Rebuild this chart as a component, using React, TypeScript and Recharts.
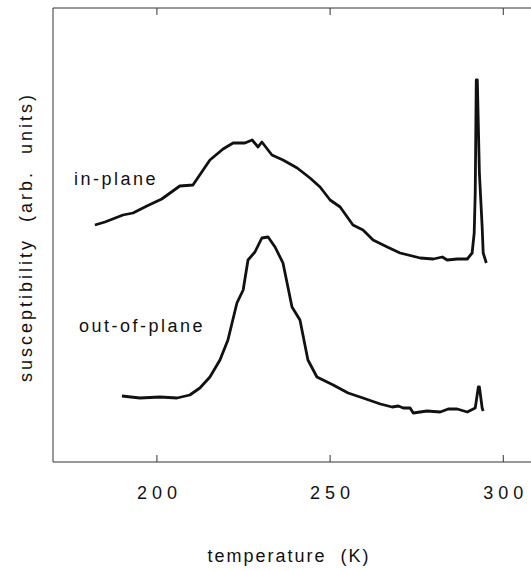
import React from "react";
import { LineChart, Line, XAxis, YAxis } from "recharts";

// temperature (K) and susceptibility (arb. units)
const inPlaneT = [
  182.1, 185.0, 190.2, 193.1, 197.1, 201.4, 206.6, 210.4, 215.3, 219.1, 222.0,
  225.4, 227.5, 229.2, 230.3, 233.2, 236.4, 240.5, 244.2, 247.1, 250.0, 252.9,
  256.6, 259.5, 262.4, 266.5, 270.2, 276.0, 279.8, 282.4, 283.8, 286.7, 289.6,
  291.0, 291.6, 291.9, 292.2, 292.5, 293.1, 293.9, 294.2, 295.1,
];
const inPlaneV = [
  237, 240, 247, 249, 256, 263, 276, 277, 302, 313, 319, 319, 322, 315, 320,
  307, 302, 294, 284, 275, 262, 255, 237, 232, 222, 215, 209, 204, 203, 205,
  202, 203, 203, 209, 229, 269, 382, 382, 289, 235, 209, 199,
];

const outPlaneT = [
  189.9, 195.1, 200.9, 205.8, 209.5, 212.4, 215.3, 218.2, 220.5, 223.1, 224.9,
  226.3, 228.3, 230.3, 232.1, 234.1, 236.4, 239.0, 241.3, 243.6, 246.2, 250.9,
  255.2, 259.5, 264.5, 267.9, 269.7, 271.1, 273.1, 274.0, 278.0, 281.8, 284.1,
  286.7, 289.6, 291.9, 292.8, 293.1, 293.9, 294.2,
];
const outPlaneV = [
  66, 64, 65, 64, 67, 74, 85, 102, 122, 159, 172, 202, 210, 224, 225, 215, 199,
  155, 142, 102, 85, 77, 69, 64, 58, 55, 56, 54, 54, 49, 51, 50, 53, 53, 50, 54,
  75, 75, 54, 51,
];

const xTicks = [200, 250, 300];

const inPlane = inPlaneT.map((t, i) => ({ t, v: inPlaneV[i] }));
const outPlane = outPlaneT.map((t, i) => ({ t, v: outPlaneV[i] }));

const font = "Arial, 'Liberation Sans', Helvetica, sans-serif";
const ink = "#111";

const BottomTick = (props: any) => {
  const { x, y, payload } = props;
  return (
    <g>
      <line x1={x} x2={x} y1={y} y2={y - 7} stroke="#333" strokeWidth={1} />
      <text
        x={x + 2.5}
        y={y + 37}
        textAnchor="middle"
        fontFamily={font}
        fontSize={18}
        letterSpacing={5}
        fill={ink}
      >
        {payload.value}
      </text>
    </g>
  );
};

const TopTick = (props: any) => {
  const { x, y } = props;
  return <line x1={x} x2={x} y1={y} y2={y + 7} stroke="#333" strokeWidth={1} />;
};

export default function App() {
  return (
    <div style={{ position: "absolute", left: 0, top: 0, background: "#fff" }}>
      <LineChart
        width={531}
        height={571}
        margin={{ top: 0, right: 0, bottom: 0, left: 0 }}
      >
        <XAxis
          xAxisId="b"
          type="number"
          dataKey="t"
          domain={[170, 308]}
          ticks={xTicks}
          orientation="bottom"
          height={109}
          allowDataOverflow
          axisLine={{ stroke: "#333", strokeWidth: 1 }}
          tickLine={false}
          tickSize={0}
          tickMargin={0}
          tick={BottomTick}
        />
        <XAxis
          xAxisId="t"
          type="number"
          dataKey="t"
          domain={[170, 308]}
          ticks={xTicks}
          orientation="top"
          height={8}
          allowDataOverflow
          axisLine={{ stroke: "#333", strokeWidth: 1 }}
          tickLine={false}
          tickSize={0}
          tickMargin={0}
          tick={TopTick}
        />
        <YAxis
          yAxisId="y"
          type="number"
          domain={[0, 454]}
          width={53}
          tick={false}
          tickLine={false}
          axisLine={{ stroke: "#333", strokeWidth: 1 }}
        />
        <Line
          xAxisId="b"
          yAxisId="y"
          data={inPlane}
          dataKey="v"
          type="linear"
          stroke={ink}
          strokeWidth={2.8}
          strokeLinejoin="round"
          dot={false}
          isAnimationActive={false}
        />
        <Line
          xAxisId="b"
          yAxisId="y"
          data={outPlane}
          dataKey="v"
          type="linear"
          stroke={ink}
          strokeWidth={2.8}
          strokeLinejoin="round"
          dot={false}
          isAnimationActive={false}
        />
        <text
          x={158}
          y={185}
          textAnchor="end"
          fontFamily={font}
          fontSize={18}
          letterSpacing={2.5}
          fill={ink}
        >
          in-plane
        </text>
        <text
          x={205}
          y={332}
          textAnchor="end"
          fontFamily={font}
          fontSize={18}
          letterSpacing={2.5}
          fill={ink}
        >
          out-of-plane
        </text>
        <text
          x={289}
          y={562}
          textAnchor="middle"
          fontFamily={font}
          fontSize={18}
          letterSpacing={2}
          fill={ink}
          style={{ whiteSpace: "pre" }}
        >
          {"temperature  (K)"}
        </text>
        <text
          x={32}
          y={237}
          textAnchor="middle"
          transform="rotate(-90, 32, 237)"
          fontFamily={font}
          fontSize={18}
          letterSpacing={3}
          fill={ink}
          style={{ whiteSpace: "pre" }}
        >
          {"susceptibility  (arb.  units)"}
        </text>
      </LineChart>
    </div>
  );
}
